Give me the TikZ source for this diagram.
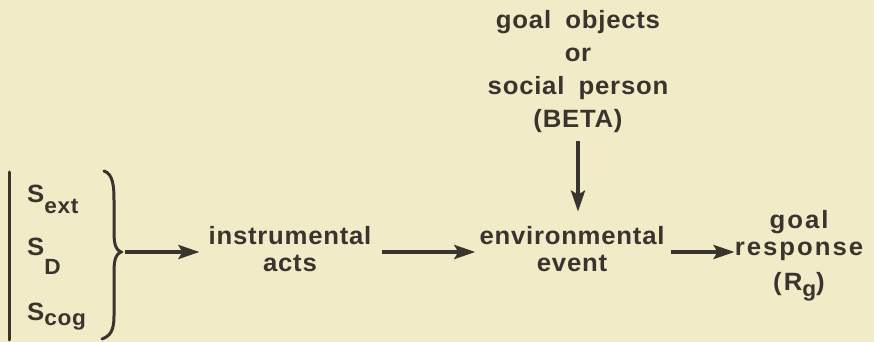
\documentclass[tikz,border=0pt]{standalone}
\usepackage{fontspec}
\setmainfont{Liberation Sans}[LetterSpace=3,FakeStretch=1.03,WordSpace=1.8]
\usetikzlibrary{arrows.meta}
\definecolor{bg}{HTML}{F2EBC7}
\definecolor{ink}{HTML}{3A342E}
\newcommand\sbx[2][9pt]{\raisebox{-#1}{\fontsize{22}{22}\selectfont #2}}
\tikzset{
  lbl/.style={font=\fontsize{25}{27}\selectfont\bfseries, text=ink, inner sep=0pt, align=center},
  arr/.style={draw=ink, line width=3.8pt, -{Stealth[length=21pt,width=14pt,inset=4pt]}},
  bracestyle/.style={draw=ink, line width=3pt, line cap=round}
}
\begin{document}
\begin{tikzpicture}[x=1pt,y=-1pt]
\fill[bg] (0,0) rectangle (874,342);
\useasboundingbox (0,0) rectangle (874,342);
% stimuli
\node[lbl, anchor=base west] (sext) at (27,202) {S\sbx[11pt]{ext}};
\node[lbl, anchor=base west] (sd) at (27,255) {S\sbx[19pt]{D}};
\node[lbl, anchor=base west] (scog) at (27,320) {S\sbx[5pt]{cog}};
\draw[bracestyle] (9,172) -- (9,340);
\coordinate (bt) at (121,252);
\draw[bracestyle] (104,171) .. controls (113,174) and (114,186) .. (114,200) -- (114,232)
  .. controls (114,245) and (116,250) .. (bt)
  .. controls (116,254) and (114,259) .. (114,272) -- (114,316)
  .. controls (114,331) and (110,336) .. (102,339);
% main chain
\node[lbl] (instr) at (290,249.5) {instrumental\\acts};
\node[lbl] (env) at (572,249.5) {environmental\\event};
\node[lbl, font=\fontsize{25}{27}\selectfont\bfseries\addfontfeature{LetterSpace=8}] (resp) at (799,256) {goal\\response\\[8pt](R\sbx[6pt]{g})};
\node[lbl] (beta) at (578,72) {goal objects\\[6pt]or\\[6pt]social person\\[6pt](BETA)};
\draw[arr, shorten <=4pt, shorten >=9pt] (bt) -- (bt -| instr.west);
\draw[arr, shorten <=10pt, shorten >=4pt] (instr.east |- bt) -- (env.west |- bt);
\draw[arr, shorten <=6pt] (env.east |- bt) -- (resp.west |- bt);
\draw[arr, shorten <=8pt, shorten >=15pt] (beta.south) -- (beta.south |- env.north);
\end{tikzpicture}
\end{document}
